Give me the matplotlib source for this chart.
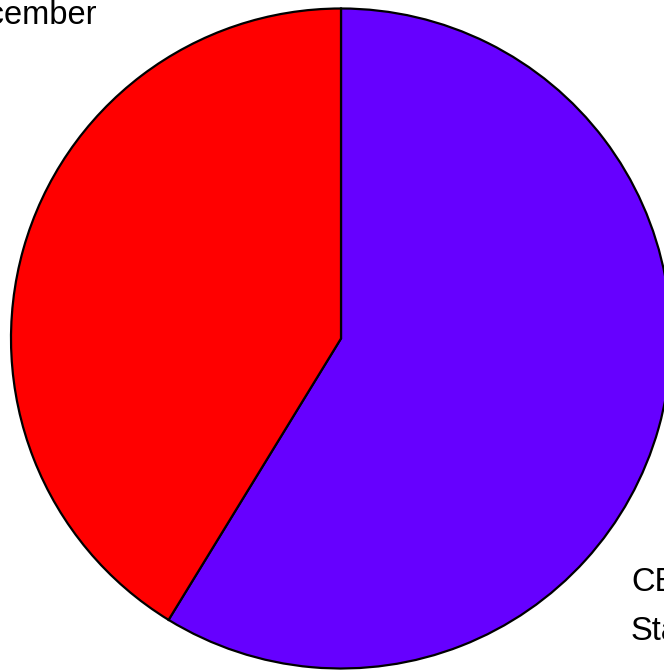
import matplotlib
matplotlib.use("Agg")
import matplotlib.pyplot as plt

labels = ["Blue", "Red"]
values = [47, 33]
colors = ["#6600FF", "#FF0000"]

W, H = 664, 670
cx, cy = 341, 338.5
R = 330

fig = plt.figure(figsize=(W / 100, H / 100), dpi=100)
ax = fig.add_axes([0, 0, 1, 1])
ax.pie(values, colors=colors, startangle=90, counterclock=False, radius=R,
       wedgeprops=dict(edgecolor="black", linewidth=1.6))
ax.set_aspect("auto")
ax.set_xlim(-cx, W - cx)
ax.set_ylim(-(H - cy), cy)
ax.axis("off")

fs = 23.5
fig.text(97 / W, 1 - 24 / H, "December", ha="right", va="baseline",
         fontsize=fs, family="Liberation Sans")
fig.text(631 / W, 1 - 591 / H, "CEO", ha="left", va="baseline",
         fontsize=fs, family="Liberation Sans")
fig.text(631 / W, 1 - 640 / H, "Staff", ha="left", va="baseline",
         fontsize=fs, family="Liberation Sans")

fig.savefig("out.png", dpi=100)
